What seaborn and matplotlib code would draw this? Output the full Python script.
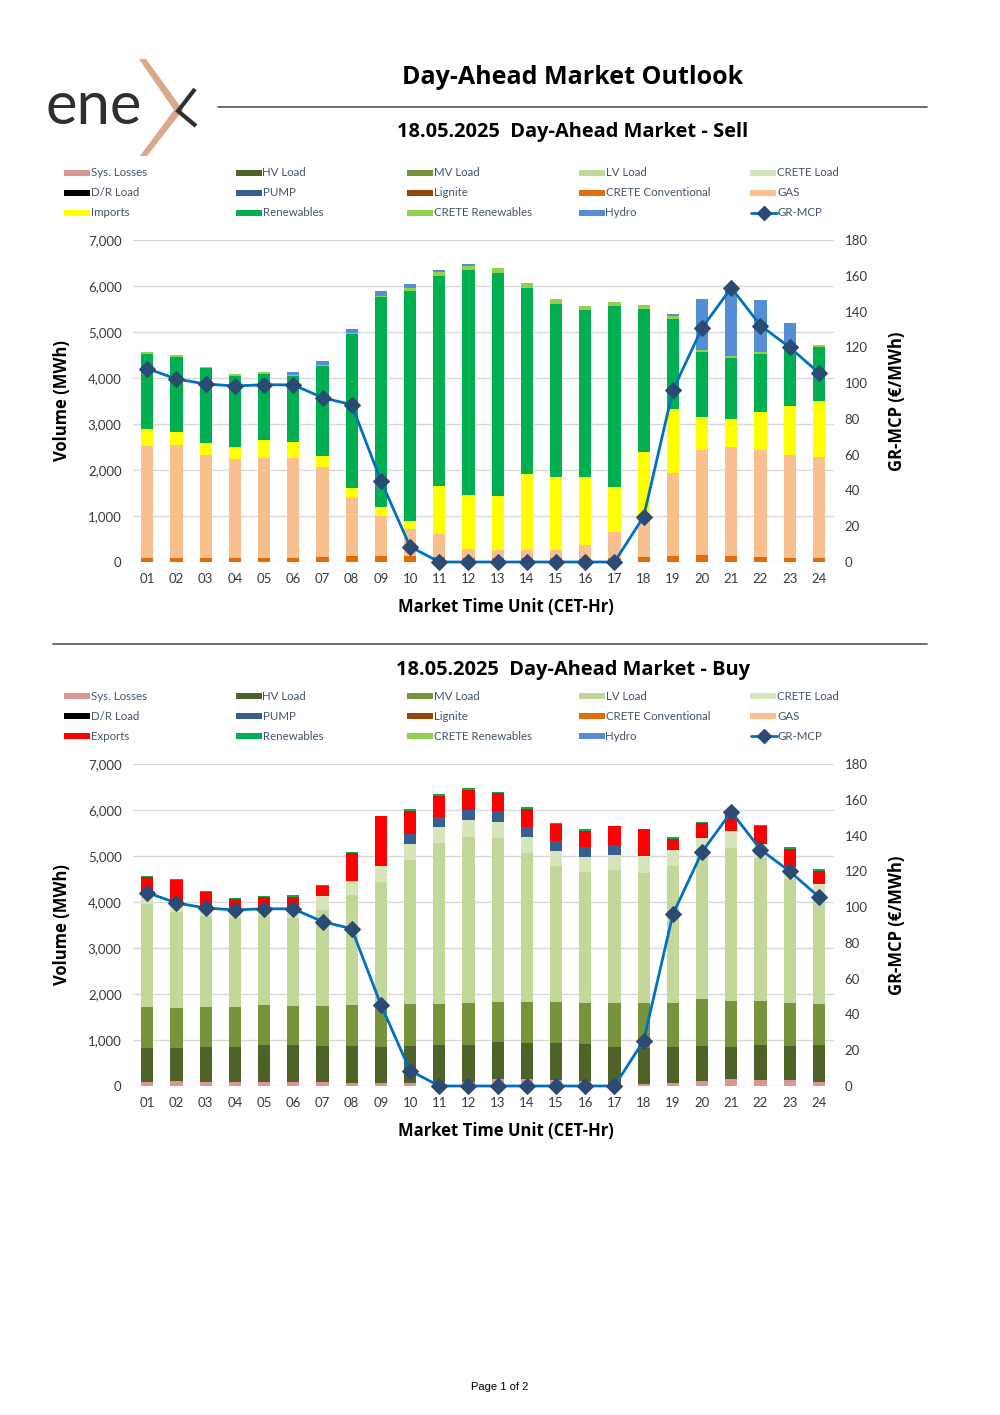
"""
Day-Ahead Market Outlook - Sell / Buy stacked volumes with GR-MCP price line
"""

import numpy as np
import pandas as pd
import matplotlib
matplotlib.use('Agg')
import matplotlib.pyplot as plt
from matplotlib.patches import Rectangle, Polygon
import seaborn as sns

sns.set_theme(style='white')
plt.rcParams['font.family'] = ['Lato', 'DejaVu Sans']
HEAD_FONT = ['Open Sans', 'DejaVu Sans']

# ==================== DATA ====================
hours = [f'{h:02d}' for h in range(1, 25)]

mcp = [108.1, 102.3, 99.5, 98.4, 99.1, 99.0, 91.9, 87.9, 45.4, 8.6, 0, 0,
       0, 0, 0, 0, 0, 25.4, 96.0, 130.9, 153.3, 132.2, 120.0, 105.7]

# Sell side (MWh)
sell_crete_conv = [90, 90, 90, 90, 90, 90, 102, 123, 138, 123, 102, 87,
                   94, 87, 87, 73, 87, 116, 138, 152, 138, 109, 87, 87]
sell_gas = [2437, 2451, 2240, 2139, 2175, 2161, 1974, 1278, 871, 603, 515, 189,
            175, 174, 174, 290, 574, 869, 1804, 2275, 2355, 2330, 2229, 2185]
sell_imports = [370, 276, 255, 276, 392, 348, 218, 211, 196, 174, 1038, 1176,
                1176, 1656, 1583, 1481, 973, 1413, 1384, 718, 623, 813, 1067, 1220]
sell_renewables = [1633, 1648, 1626, 1546, 1438, 1438, 1975, 3339, 4552, 4988, 4567, 4893,
                   4842, 4036, 3761, 3630, 3927, 3102, 1964, 1427, 1311, 1278, 1220, 1176]
sell_crete_ren = [37, 36, 36, 36, 29, 21, 22, 29, 36, 58, 72, 80,
                  109, 109, 116, 102, 102, 94, 50, 44, 44, 44, 43, 51]
sell_hydro = [0, 0, 0, 0, 0, 80, 72, 95, 88, 87, 58, 51,
              0, 0, 0, 0, 0, 0, 58, 1108, 1469, 1111, 552, 0]

# Buy side (MWh)
buy_sys_losses = [87, 102, 87, 87, 87, 87, 87, 73, 73, 73, 87, 94,
                  145, 145, 131, 109, 22, 44, 73, 109, 160, 131, 131, 94]
buy_hv = [733, 732, 769, 769, 812, 798, 791, 790, 783, 797, 805, 805,
          805, 798, 805, 798, 834, 790, 768, 769, 681, 761, 747, 798]
buy_mv = [906, 871, 863, 863, 856, 849, 870, 892, 899, 914, 900, 900,
          885, 878, 885, 899, 958, 965, 973, 1008, 1016, 965, 921, 892]
buy_lv = [2235, 2082, 1966, 1923, 1930, 1908, 2082, 2387, 2684, 3120, 3489, 3620,
          3547, 3242, 2967, 2837, 2879, 2836, 2966, 3250, 3324, 3097, 2694, 2376]
buy_crete_load = [217, 224, 218, 210, 203, 203, 290, 312, 349, 348, 348, 362,
                  363, 341, 319, 326, 334, 356, 356, 262, 355, 305, 274, 231]
buy_pump = [0, 0, 0, 0, 0, 0, 0, 0, 0, 218, 218, 225,
            225, 225, 217, 218, 218, 0, 0, 0, 0, 0, 0, 0]
buy_exports = [355, 457, 304, 203, 211, 254, 218, 609, 1088, 507, 450, 421,
               392, 399, 370, 362, 406, 602, 232, 312, 400, 385, 385, 283]
buy_renewables = [36, 37, 37, 36, 36, 43, 29, 15, 0, 44, 50, 44,
                  36, 36, 29, 29, 0, 0, 36, 29, 0, 29, 40, 37]

# ==================== STYLE ====================
C = {
    'Sys. Losses': '#DA9694', 'HV Load': '#4F6228', 'MV Load': '#77933C',
    'LV Load': '#C4D79B', 'CRETE Load': '#D8E4BC', 'D/R Load': '#000000',
    'PUMP': '#366092', 'Lignite': '#974706', 'CRETE Conventional': '#E26B0A',
    'GAS': '#FABF8F', 'Imports': '#FFFF00', 'Exports': '#FF0000',
    'Renewables': '#00B050', 'CRETE Renewables': '#92D050', 'Hydro': '#558ED5',
}
LINE_C = '#0070C0'
MARK_C = '#2B4A74'
GRID_C = '#D9D9D9'
TXT_C = '#3A3A3A'
LEG_C = '#44546A'

W, H = 1000, 1415
fig = plt.figure(figsize=(W / 100, H / 100), dpi=100)
fig.patch.set_facecolor('white')

# overlay in pixel coordinates for titles, logo and legends
ov = fig.add_axes([0, 0, 1, 1])
ov.set_xlim(0, W)
ov.set_ylim(H, 0)
ov.axis('off')


def draw_logo():
    ov.text(45, 124, 'ene', fontsize=43, color='#2F2F2F', fontweight='normal',
            ha='left', va='baseline')
    ov.add_patch(Polygon([(139, 59), (146, 59), (183, 110), (147, 156), (140, 156), (174, 110)],
                         closed=True, facecolor='#D9A98C', edgecolor='none'))
    ov.plot([195, 178, 196], [89, 111, 126], color='#2F2F2F', lw=3,
            solid_capstyle='butt', solid_joinstyle='miter')


def draw_legend(y0, row3_first):
    rows = [
        ['Sys. Losses', 'HV Load', 'MV Load', 'LV Load', 'CRETE Load'],
        ['D/R Load', 'PUMP', 'Lignite', 'CRETE Conventional', 'GAS'],
        [row3_first, 'Renewables', 'CRETE Renewables', 'Hydro', 'GR-MCP'],
    ]
    for r, row in enumerate(rows):
        y = y0 + r * 20
        for c, name in enumerate(row):
            x = 64 + c * 171.5
            if name == 'GR-MCP':
                ov.plot([x + 1, x + 27], [y, y], color=LINE_C, lw=2)
                ov.plot([x + 14], [y], marker='D', ms=7, color=MARK_C)
            else:
                ov.add_patch(Rectangle((x, y - 3), 26, 6, facecolor=C[name], edgecolor='none'))
            ov.text(x + 27, y, name, fontsize=8.3, color=LEG_C, ha='left', va='center')


def stacked_chart(ax, layers, subtitle_y, subtitle):
    # draw cumulative totals from the top layer down so each segment stays visible
    df = pd.DataFrame({name: vals for name, vals in layers}, index=hours)
    cum = df.cumsum(axis=1)
    for name in reversed(df.columns):
        sns.barplot(x=hours, y=cum[name].values, color=C[name], width=0.42,
                    saturation=1, errorbar=None, linewidth=0, ax=ax)

    ax.set_xlim(-0.5, 23.5)
    ax.set_ylim(0, 7000)
    ax.set_yticks(range(0, 7001, 1000))
    ax.set_yticklabels([f'{v:,}' for v in range(0, 7001, 1000)])
    ax.yaxis.grid(True, color=GRID_C, lw=1)
    ax.set_axisbelow(True)
    for s in ax.spines.values():
        s.set_visible(False)
    ax.tick_params(axis='both', length=0, labelsize=9.5, labelcolor=TXT_C)
    ax.tick_params(axis='y', pad=8)
    ax.tick_params(axis='x', pad=8)
    ax.set_xlabel('Market Time Unit (CET-Hr)', fontsize=12, fontweight='bold',
                  color='black', family=HEAD_FONT)
    ax.xaxis.set_label_coords(0.533, -0.112)
    ax.set_ylabel('Volume (MWh)', fontsize=12, fontweight='bold', color='black',
                  family=HEAD_FONT)
    ax.yaxis.set_label_coords(-0.088, 0.5)

    ax2 = ax.twinx()
    sns.lineplot(x=np.arange(24), y=mcp, ax=ax2, color=LINE_C, lw=2,
                 marker='D', markersize=8, markerfacecolor=MARK_C,
                 markeredgecolor=MARK_C, clip_on=False)
    ax2.set_ylim(0, 180)
    ax2.set_yticks(range(0, 181, 20))
    for s in ax2.spines.values():
        s.set_visible(False)
    ax2.tick_params(axis='y', length=0, labelsize=9.5, labelcolor=TXT_C, pad=8)
    ax2.set_ylabel('GR-MCP (€/MWh)', fontsize=12, fontweight='bold', color='black',
                   family=HEAD_FONT)
    ax2.yaxis.set_label_coords(1.078, 0.5)
    ax2.grid(False)

    ov.text(573, subtitle_y, subtitle, fontsize=14.4, fontweight='bold', family=HEAD_FONT,
            ha='center', va='baseline', color='black')


# ==================== HEADER ====================
draw_logo()
ov.text(573, 84, 'Day-Ahead Market Outlook', fontsize=18, fontweight='bold',
        family=HEAD_FONT, ha='center', va='baseline', color='black')
ov.plot([218, 927], [107, 107], color='#555555', lw=1.2)

# ==================== SELL ====================
draw_legend(172.5, 'Imports')
ax_sell = fig.add_axes([132.7 / W, (H - 562) / H, 700.8 / W, 322 / H])
sell_layers = [
    ('CRETE Conventional', sell_crete_conv),
    ('GAS', sell_gas),
    ('Imports', sell_imports),
    ('Renewables', sell_renewables),
    ('CRETE Renewables', sell_crete_ren),
    ('Hydro', sell_hydro),
]
stacked_chart(ax_sell, sell_layers, 137, '18.05.2025  Day-Ahead Market - Sell')

ov.plot([53, 927], [644, 644], color='#555555', lw=1.2)

# ==================== BUY ====================
draw_legend(696, 'Exports')
ax_buy = fig.add_axes([132.7 / W, (H - 1086) / H, 700.8 / W, 322 / H])
buy_layers = [
    ('Sys. Losses', buy_sys_losses),
    ('HV Load', buy_hv),
    ('MV Load', buy_mv),
    ('LV Load', buy_lv),
    ('CRETE Load', buy_crete_load),
    ('PUMP', buy_pump),
    ('Exports', buy_exports),
    ('Renewables', buy_renewables),
]
stacked_chart(ax_buy, buy_layers, 675, '18.05.2025  Day-Ahead Market - Buy')

ov.text(500, 1387, 'Page 1 of 2', fontsize=8, family=['Liberation Sans', 'DejaVu Sans'],
        ha='center', va='center', color='black')

plt.savefig('out.png', dpi=100)
plt.close()
